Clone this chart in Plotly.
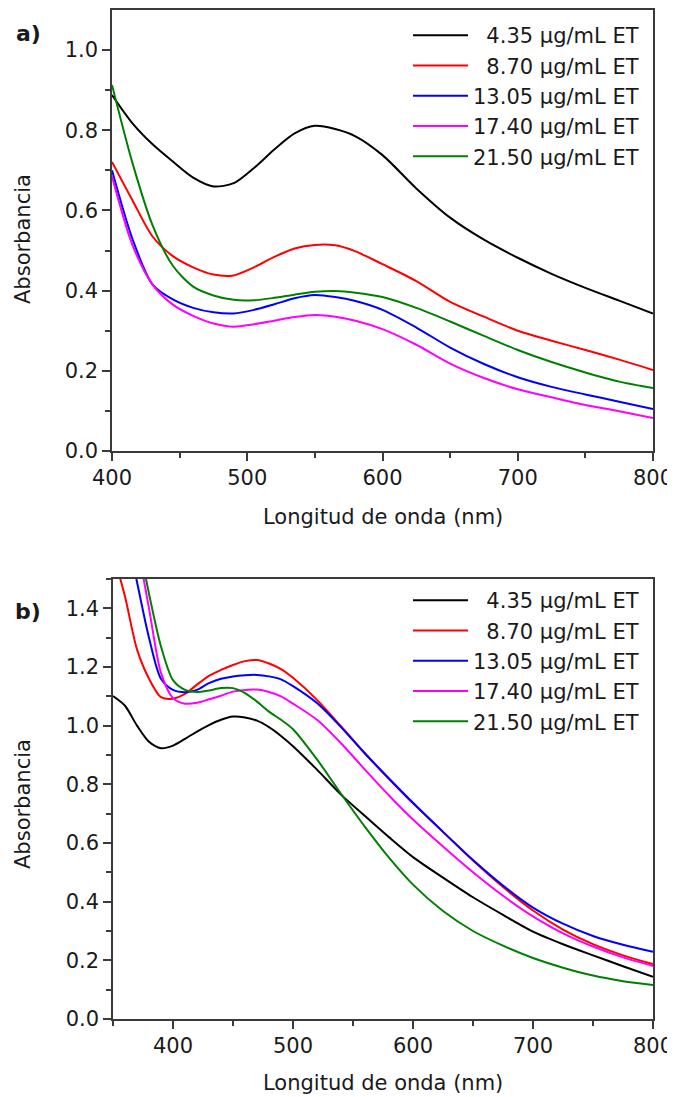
import plotly.graph_objects as go

# ---------------- data ----------------
labels = ["\u20074.35 µg/mL ET", "\u20078.70 µg/mL ET", "13.05 µg/mL ET",
          "17.40 µg/mL ET", "21.50 µg/mL ET"]
colors = ["#000000", "#FF0000", "#0000FF", "#FF00FF", "#008000"]

# Panel a) wavelength (nm)
a_x = [400, 415, 430, 445, 460, 475, 490, 505, 520, 535, 550, 565, 580,
       600, 625, 650, 675, 700, 725, 750, 775, 800]
a_black = [0.888, 0.818, 0.765, 0.722, 0.682, 0.660, 0.668, 0.706, 0.752, 0.792,
           0.811, 0.803, 0.785, 0.738, 0.655, 0.582, 0.527, 0.482, 0.442, 0.407,
           0.375, 0.343]
a_red = [0.721, 0.626, 0.535, 0.486, 0.458, 0.440, 0.438, 0.458, 0.484, 0.505,
         0.514, 0.513, 0.498, 0.466, 0.424, 0.372, 0.335, 0.300, 0.275, 0.252,
         0.228, 0.202]
a_blue = [0.700, 0.530, 0.415, 0.378, 0.357, 0.346, 0.343, 0.352, 0.366, 0.381,
          0.389, 0.384, 0.374, 0.352, 0.308, 0.258, 0.217, 0.184, 0.160, 0.141,
          0.123, 0.105]
a_magenta = [0.685, 0.515, 0.415, 0.365, 0.337, 0.318, 0.310, 0.316, 0.325, 0.334,
             0.339, 0.335, 0.325, 0.304, 0.265, 0.218, 0.182, 0.154, 0.134, 0.115,
             0.099, 0.082]
a_green = [0.913, 0.720, 0.563, 0.462, 0.410, 0.388, 0.377, 0.376, 0.382, 0.390,
           0.397, 0.399, 0.395, 0.384, 0.357, 0.323, 0.287, 0.252, 0.222, 0.196,
           0.173, 0.157]

# Panel b) wavelength (nm)
b_x = [350, 360, 370, 380, 390, 400, 410, 420, 430, 440, 450, 460, 470, 480,
       490, 500, 520, 540, 560, 580, 600, 625, 650, 675, 700, 725, 750, 775, 800]
b_black = [1.101, 1.068, 1.000, 0.945, 0.923, 0.932, 0.955, 0.980, 1.002, 1.020,
           1.031, 1.028, 1.017, 0.995, 0.965, 0.930, 0.850, 0.765, 0.692, 0.620,
           0.552, 0.482, 0.415, 0.355, 0.298, 0.255, 0.217, 0.180, 0.144]
b_red = [1.590, 1.440, 1.260, 1.160, 1.097, 1.092, 1.108, 1.140, 1.170, 1.190,
         1.207, 1.220, 1.224, 1.212, 1.193, 1.163, 1.088, 0.998, 0.905, 0.818,
         0.735, 0.638, 0.540, 0.450, 0.370, 0.305, 0.255, 0.217, 0.187]
b_blue = [1.880, 1.690, 1.490, 1.300, 1.160, 1.122, 1.114, 1.122, 1.145, 1.160,
          1.168, 1.172, 1.173, 1.168, 1.158, 1.135, 1.077, 0.995, 0.905, 0.820,
          0.737, 0.638, 0.542, 0.455, 0.380, 0.325, 0.283, 0.253, 0.229]
b_magenta = [1.980, 1.800, 1.620, 1.400, 1.180, 1.094, 1.075, 1.078, 1.090, 1.102,
             1.116, 1.122, 1.123, 1.115, 1.100, 1.075, 1.020, 0.940, 0.850, 0.762,
             0.680, 0.588, 0.500, 0.420, 0.350, 0.292, 0.247, 0.210, 0.181]
b_green = [2.060, 1.860, 1.660, 1.450, 1.270, 1.155, 1.122, 1.115, 1.120, 1.128,
           1.128, 1.111, 1.082, 1.048, 1.020, 0.988, 0.885, 0.768, 0.655, 0.550,
           0.458, 0.368, 0.300, 0.250, 0.208, 0.175, 0.148, 0.129, 0.116]

a_series = [a_black, a_red, a_blue, a_magenta, a_green]
b_series = [b_black, b_red, b_blue, b_magenta, b_green]

FONT = "DejaVu Sans, Liberation Sans, Arial, sans-serif"
TXT = "#1a1a1a"
AXC = "#3a3a3a"
FS = 21

fig = go.Figure()
for name, col, ys in zip(labels, colors, a_series):
    fig.add_trace(go.Scatter(x=a_x, y=ys, mode="lines", name=name,
                             line=dict(color=col, width=2, shape="spline", smoothing=0.8),
                             xaxis="x", yaxis="y", legend="legend"))
for name, col, ys in zip(labels, colors, b_series):
    fig.add_trace(go.Scatter(x=b_x, y=ys, mode="lines", name=name,
                             line=dict(color=col, width=2, shape="spline", smoothing=0.8),
                             xaxis="x2", yaxis="y2", legend="legend2"))

# the page places the figure 8 px in from the top-left corner
OFF = 8
W, H = 675 - OFF, 1097 - OFF

def px(v):
    return (v - OFF) / W

def py(v):
    return 1 - (v - OFF) / H

axis_common = dict(
    showline=True, linecolor=AXC, linewidth=1.5, mirror=True,
    ticks="outside", ticklen=8, tickwidth=1.5, tickcolor=AXC,
    showgrid=False, zeroline=False, automargin=False,
    tickfont=dict(family=FONT, size=FS, color=TXT),
    minor=dict(ticks="outside", ticklen=5, tickwidth=1.5, tickcolor=AXC, showgrid=False),
)

fig.update_layout(
    width=W, height=H,
    margin=dict(l=0, r=0, t=0, b=0, autoexpand=False),
    paper_bgcolor="white", plot_bgcolor="white",
    font=dict(family=FONT, color=TXT),
    xaxis=dict(domain=[px(112), px(653)], range=[400, 800], anchor="y",
               tickvals=[400, 500, 600, 700, 800], ticklabelstandoff=-1,
               minor_tickvals=[450, 550, 650, 750], **axis_common),
    yaxis=dict(domain=[py(451), py(10)], range=[0, 1.1], anchor="x",
               tickvals=[0, 0.2, 0.4, 0.6, 0.8, 1.0], tickformat=".1f",
               minor_tickvals=[0.1, 0.3, 0.5, 0.7, 0.9], **axis_common),
    xaxis2=dict(domain=[px(113), px(653)], range=[350, 800], anchor="y2",
                tickvals=[400, 500, 600, 700, 800], ticklabelstandoff=-1,
                minor_tickvals=[350, 450, 550, 650, 750], **axis_common),
    yaxis2=dict(domain=[py(1019), py(579)], range=[0, 1.5], anchor="x2",
                tickvals=[0, 0.2, 0.4, 0.6, 0.8, 1.0, 1.2, 1.4], tickformat=".1f",
                minor_tickvals=[0.1, 0.3, 0.5, 0.7, 0.9, 1.1, 1.3, 1.5], **axis_common),
    legend=dict(x=px(408), y=py(15), xanchor="left", yanchor="top",
                bgcolor="rgba(0,0,0,0)", borderwidth=0, itemwidth=55,
                font=dict(family=FONT, size=FS, color=TXT), tracegroupgap=0),
    legend2=dict(x=px(408), y=py(580), xanchor="left", yanchor="top",
                 bgcolor="rgba(0,0,0,0)", borderwidth=0, itemwidth=55,
                 font=dict(family=FONT, size=FS, color=TXT), tracegroupgap=0),
    showlegend=True,
)

ann_font = dict(family=FONT, size=FS, color=TXT)
fig.add_annotation(text="Longitud de onda (nm)", x=px(382.5), y=py(517), xref="paper",
                   yref="paper", showarrow=False, font=ann_font,
                   xanchor="center", yanchor="middle")
fig.add_annotation(text="Longitud de onda (nm)", x=px(383), y=py(1083), xref="paper",
                   yref="paper", showarrow=False, font=ann_font,
                   xanchor="center", yanchor="middle")
fig.add_annotation(text="Absorbancia", x=px(23), y=py(239), xref="paper", yref="paper",
                   textangle=-90, showarrow=False, font=ann_font,
                   xanchor="center", yanchor="middle")
fig.add_annotation(text="Absorbancia", x=px(23), y=py(804), xref="paper", yref="paper",
                   textangle=-90, showarrow=False, font=ann_font,
                   xanchor="center", yanchor="middle")
fig.add_annotation(text="<b>a)</b>", x=px(28), y=py(33), xref="paper", yref="paper",
                   showarrow=False, font=dict(family=FONT, size=22, color=TXT),
                   xanchor="center", yanchor="middle")
fig.add_annotation(text="<b>b)</b>", x=px(28), y=py(611), xref="paper", yref="paper",
                   showarrow=False, font=dict(family=FONT, size=22, color=TXT),
                   xanchor="center", yanchor="middle")

# keep the page free of scrollbars so the full figure stays visible
fig.write_html(
    "out.html",
    post_script="document.documentElement.style.overflow='hidden';"
                "document.body.style.overflow='hidden';",
)
